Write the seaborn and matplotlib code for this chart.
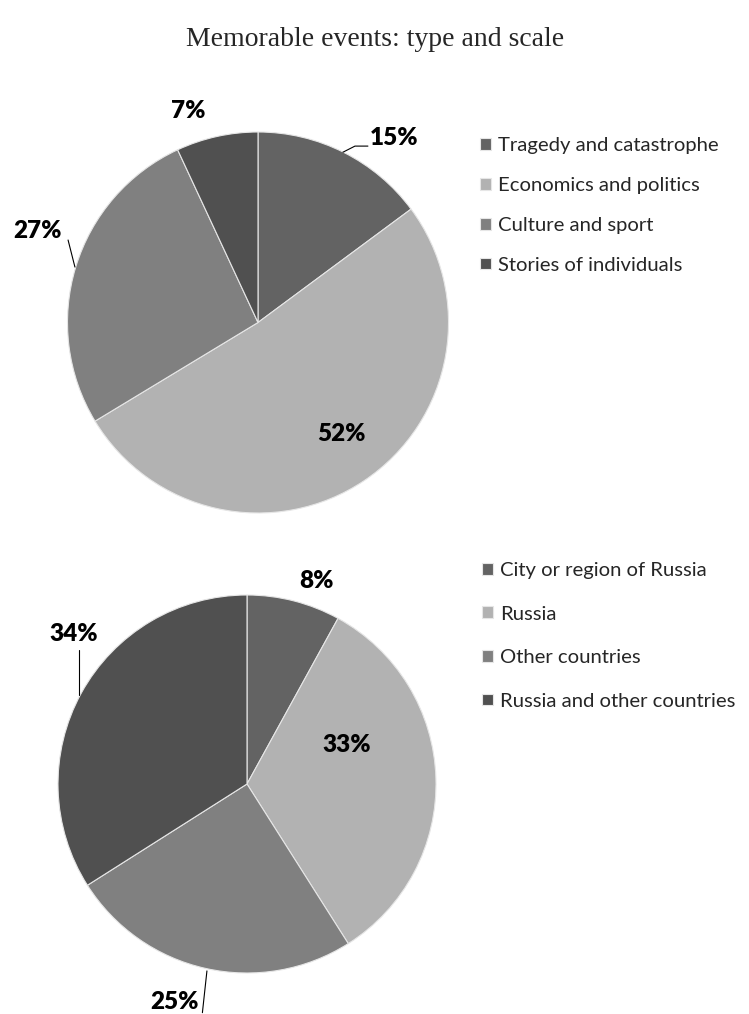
import matplotlib
matplotlib.use("Agg")
import matplotlib.pyplot as plt
import seaborn as sns

# data
type_labels = ["Tragedy and catastrophe", "Economics and politics", "Culture and sport", "Stories of individuals"]
type_values = [15, 52, 27, 7]
scale_labels = ["City or region of Russia", "Russia", "Other countries", "Russia and other countries"]
scale_values = [8, 33, 25, 34]
slice_colors = ["#636363", "#b2b2b2", "#808080", "#505050"]

# label placement in radius units, plus optional leader lines
type_label_pos = [(0.714, 0.969), (0.436, -0.585), (-1.155, 0.480), (-0.367, 1.110)]
type_leaders = [[(0.446, 0.894), (0.509, 0.926), (0.577, 0.926)], None, [(-0.997, 0.433), (-0.961, 0.291)], None]
scale_label_pos = [(0.370, 1.074), (0.529, 0.206), (-0.386, -1.155), (-0.915, 0.794)]
scale_leaders = [None, None, [(-0.212, -0.989), (-0.236, -1.210)], [(-0.889, 0.709), (-0.889, 0.471)]]

sns.set_theme(style="white")
plt.rcParams['font.family'] = ['Lato', 'DejaVu Sans']

W, H = 749, 1014
fig = plt.figure(figsize=(W / 100, H / 100), dpi=100)


def px_axes(cx, cy, r):
    return fig.add_axes([(cx - r) / W, (H - cy - r) / H, 2 * r / W, 2 * r / H])


def draw_pie(ax, values, labels, pos, leaders, legend_xy, spacing):
    wedges, _ = ax.pie(values, colors=slice_colors, startangle=90, counterclock=False,
                       radius=1, wedgeprops=dict(edgecolor="#e6e6e6", linewidth=0.8))
    ax.set_xlim(-1, 1)
    ax.set_ylim(-1, 1)
    ax.set_aspect("equal")
    ax.axis("off")
    for v, (x, y), lead in zip(values, pos, leaders):
        ax.text(x, y, f"{v}%", ha="center", va="center", fontsize=17.5,
                fontweight="heavy", color="black")
        if lead:
            xs, ys = zip(*lead)
            ax.plot(xs, ys, color="black", lw=0.8, clip_on=False)
    fig.legend(wedges, labels, loc="upper left",
               bbox_to_anchor=(legend_xy[0] / W, 1 - legend_xy[1] / H),
               frameon=False, fontsize=14.6, borderpad=0, borderaxespad=0,
               handlelength=0.52, handleheight=0.52, handletextpad=0.38,
               labelspacing=spacing)


ax1 = px_axes(258, 322.5, 190.5)
draw_pie(ax1, type_values, type_labels, type_label_pos, type_leaders, (480, 137), 1.13)

ax2 = px_axes(247, 784, 189)
draw_pie(ax2, scale_values, scale_labels, scale_label_pos, scale_leaders, (482, 562), 1.31)

fig.text(375 / W, 1 - 40 / H, "Memorable events: type and scale", ha="center", va="center",
         fontsize=20, family=["Liberation Serif", "DejaVu Serif"])

fig.savefig("out.png", dpi=100)
